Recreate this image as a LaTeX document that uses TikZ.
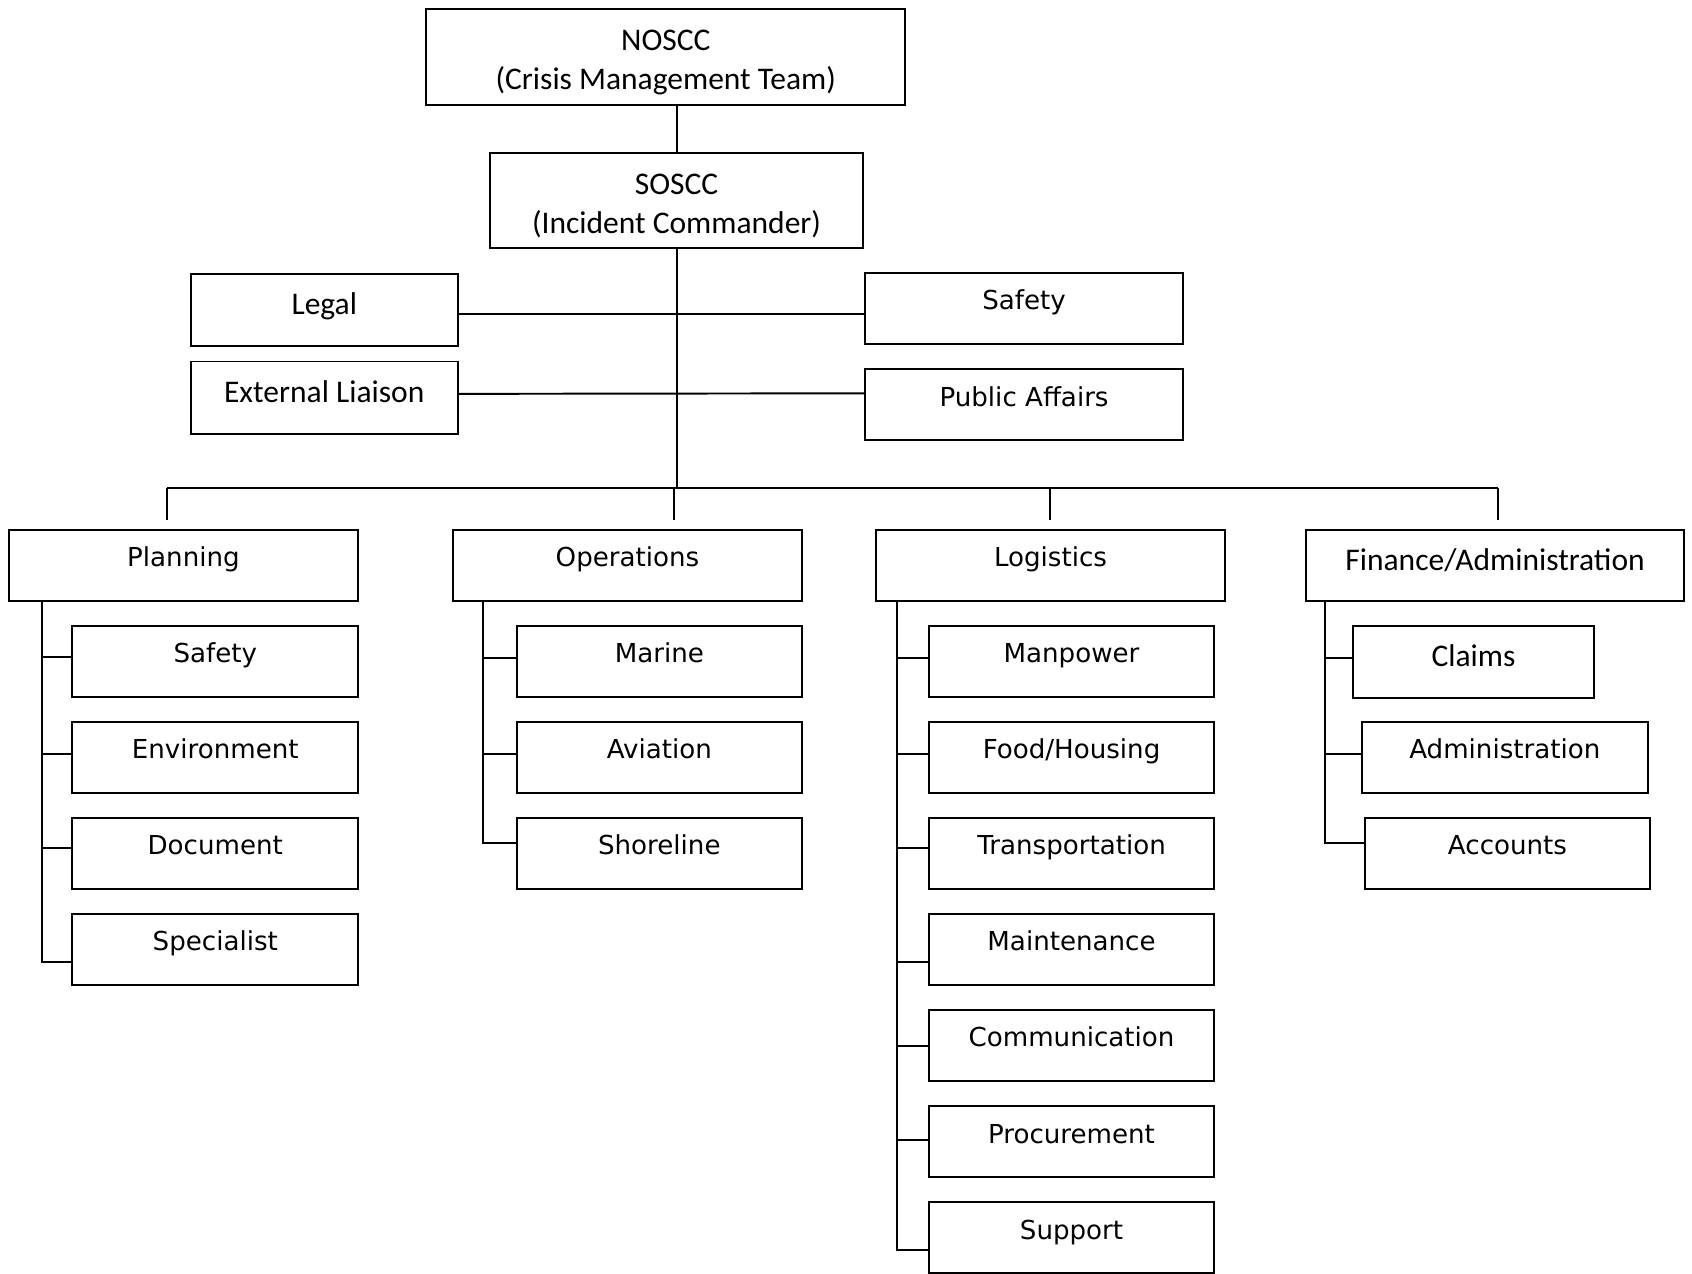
\documentclass[tikz,border=0pt]{standalone}
\usepackage{fontspec}
\newfontfamily\verdana{DejaVu Sans}
\newfontfamily\calibri{Carlito}
\usetikzlibrary{calc}

\begin{document}
\begin{tikzpicture}[x=0.5pt, y=-0.5pt, line width=0.9pt,
    caja/.style={draw, rectangle, inner sep=0pt, minimum width=#1*0.5pt, minimum height=33pt,
      text height=8pt, text depth=6.75pt, font=\verdana\fontsize{12.1}{15}\selectfont},
    cajac/.style={caja=#1, minimum height=33.5pt, text height=10pt, text depth=5.5pt,
      font=\calibri\fontsize{14.6}{17.5}\selectfont},
    jefe/.style={draw, rectangle, inner sep=0pt, minimum width=#1*0.5pt, minimum height=44.5pt,
      align=center, text height=33pt, text depth=3pt, font=\calibri\fontsize{14.6}{18}\selectfont}]
  \def\paso{89}
  \useasboundingbox (0,0) rectangle (1568,1180.6);

  % Mando
  \node[jefe=444] (noscc) at (617,52.5) {NOSCC\\(Crisis Management Team)};
  \node[jefe=346, minimum height=44pt] (soscc) at (627,186) {SOSCC\\(Incident Commander)};
  \draw (noscc.south -| soscc.north) -- (soscc.north);

  % Staff
  \node[cajac=247] (legal) at (300.5,287) {Legal};
  \node[cajac=247] (enlace) at (300.5,368.5) {External Liaison};
  \node[caja=294] (seg) at (949,286) {Safety};
  \node[caja=294] (prensa) at (949,375) {Public Affairs};
  \draw ($(legal.east)+(0,4)$) -- ($(seg.west)+(0,5)$);
  \draw ($(enlace.east)+(0,-3.5)$) -- ($(prensa.west)+(0,-10.5)$);

  % Secciones
  \node[caja=324] (plan) at (170,524) {Planning};
  \node[caja=323] (oper) at (581.5,524) {Operations};
  \node[caja=323] (log) at (973.5,524) {Logistics};
  \node[cajac=351, minimum height=33pt] (fin) at (1385.5,524) {Finance/Administration};

  % Barra de secciones
  \coordinate (bus) at ($(plan.north)+(-15,-38)$);
  \draw (soscc.south) -- (soscc.south |- bus);
  \draw (bus) -- ($(fin.north)+(2.5,-38)$);
  \foreach \n/\d in {plan/-15, oper/43.5, log/-0.5, fin/2.5}
    \draw ($(\n.north)+(\d,-38)$) -- ++(0,30);

  % Planning
  \foreach \t/\d [count=\i] in {Safety/-4, Environment/-3, Document/-5, Specialist/11.5} {
    \node[caja=265] (plan\i) at (199.5,524+\paso*\i) {\t};
    \draw (plan.south -| 38.6,0) |- ($(plan\i.west)+(0,\d)$);
  }

  % Operations
  \foreach \t/\d [count=\i] in {Marine/-3.5, Aviation/-3.3, Shoreline/-9.5} {
    \node[caja=264] (oper\i) at (611,524+\paso*\i) {\t};
    \draw (oper.south -| 447.8,0) |- ($(oper\i.west)+(0,\d)$);
  }

  % Logistics
  \foreach \t/\d [count=\i] in {Manpower/-3.5, {Food/Housing}/-3.3, Transportation/-5.5,
      Maintenance/11.2, Communication/0.4, Procurement/-1.9, Support/11.4} {
    \node[caja=264] (log\i) at (993,524+\paso*\i) {\t};
    \draw (log.south -| 831.5,0) |- ($(log\i.west)+(0,\d)$);
  }

  % Finance
  \node[cajac=223] (fin1) at (1365.5,613.5) {Claims};
  \node[caja=265] (fin2) at (1394.5,702) {Administration};
  \node[caja=264] (fin3) at (1397,791) {Accounts};
  \foreach \i/\d in {1/-4, 2/-3.3, 3/-9.5}
    \draw (fin.south -| 1228,0) |- ($(fin\i.west)+(0,\d)$);
\end{tikzpicture}
\end{document}
